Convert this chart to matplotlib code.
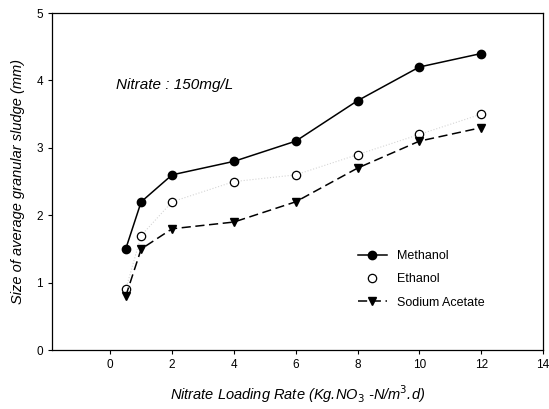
import matplotlib
matplotlib.use('Agg')
import matplotlib.pyplot as plt
from matplotlib.lines import Line2D

plt.rcParams['font.family'] = ['Liberation Sans', 'DejaVu Sans']

x = [0.5, 1, 2, 4, 6, 8, 10, 12]
methanol = [1.5, 2.2, 2.6, 2.8, 3.1, 3.7, 4.2, 4.4]
ethanol = [0.9, 1.7, 2.2, 2.5, 2.6, 2.9, 3.2, 3.5]
acetate = [0.8, 1.5, 1.8, 1.9, 2.2, 2.7, 3.1, 3.3]
xticks = [0, 2, 4, 6, 8, 10, 12, 14]
yticks = [0, 1, 2, 3, 4, 5]

fig = plt.figure(figsize=(5.49, 4.09), dpi=100)
ax = fig.add_axes([0.095, 0.144, 0.894, 0.824])

l1, = ax.plot(x, methanol, '-', color='black', lw=1.1, marker='o', ms=6,
              label='Methanol')
ax.plot(x, ethanol, ':', color='#d5d5d5', lw=0.8, marker='o', ms=6,
        mfc='white', mec='black', mew=0.9)
l3, = ax.plot(x, acetate, '--', color='black', lw=1.1, dashes=(6, 3),
              marker='v', ms=6, label='Sodium Acetate')
l2 = Line2D([], [], ls='none', marker='o', ms=6, mfc='white', mec='black',
            mew=0.9, label='Ethanol')

ax.set_xlim(-1.88, 13.95)
ax.set_ylim(0, 5)
ax.set_xticks(xticks)
ax.set_yticks(yticks)
ax.tick_params(direction='out', length=3, labelsize=8.5, width=0.8)

ax.set_xlabel('Nitrate Loading Rate (Kg.NO$_3$ -N/m$^3$.d)', style='italic',
              fontsize=10.5, labelpad=9)
ax.set_ylabel('Size of average granular sludge (mm)', style='italic',
              fontsize=10.5, labelpad=8)

ax.text(0.2, 3.93, 'Nitrate : 150mg/L', style='italic', fontsize=11,
        va='center')

ax.legend(handles=[l1, l2, l3], loc='center left',
          bbox_to_anchor=(0.6, 0.21), frameon=False,
          fontsize=9, handlelength=2.3, labelspacing=0.9)

for s in ax.spines.values():
    s.set_linewidth(0.9)

fig.savefig('out.png', dpi=100)
